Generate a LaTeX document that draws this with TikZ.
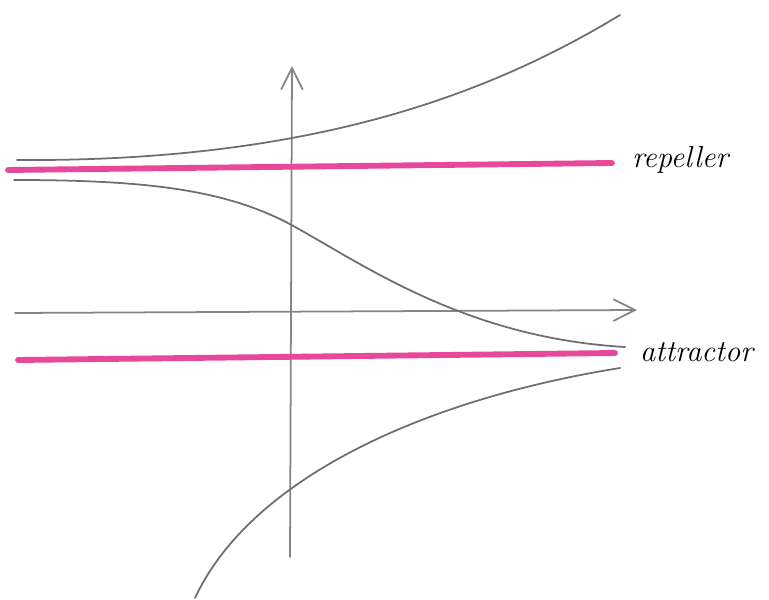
\documentclass[tikz,border=0pt]{standalone}
\usetikzlibrary{arrows.meta}
\begin{document}
\begin{tikzpicture}[x=0.03cm,y=-0.03cm,font=\itshape\fontsize{26}{30}\selectfont]
  \definecolor{pcurve}{HTML}{6E6E6E}
  \definecolor{paxis}{HTML}{858585}
  \definecolor{pfix}{HTML}{E8489A}
  \tikzset{
    flowcurve/.style={pcurve,line width=1.5pt,line cap=round},
    fixline/.style={pfix,line width=5pt,line cap=round},
    axisline/.style={paxis,line width=1.5pt,line cap=round,
      -{Straight Barb[length=6.5mm,width=6.5mm,line width=1.5pt]}}
  }
  \path[use as bounding box] (0,0) rectangle (769,600);
  % axes
  \coordinate (xstart) at (15,313);
  \coordinate (xend) at (637,310);
  \coordinate (ystart) at (290,557);
  \coordinate (yend) at (292,66);
  \draw[axisline] (xstart) -- (xend);
  \draw[axisline] (ystart) -- (yend);
  % fixed points
  \coordinate (repA) at (8,170);
  \coordinate (repB) at (612,163);
  \coordinate (attA) at (18,360);
  \coordinate (attB) at (615,353);
  \draw[fixline] (repA) -- (repB);
  \draw[fixline] (attA) -- (attB);
  \node[anchor=west] (replabel) at (628,160) {repeller};
  \node[anchor=west] (attlabel) at (636,352) {attractor};
  % solutions
  \draw[flowcurve] (17,160) .. controls (300,162) and (480,100) .. (620,15);
  \draw[flowcurve] (14,180) .. controls (150,180) and (230,190) .. (297,228)
    .. controls (370,269) and (470,338) .. (625,347);
  \draw[flowcurve] (195,598) .. controls (250,480) and (420,400) .. (620,368);
\end{tikzpicture}
\end{document}
